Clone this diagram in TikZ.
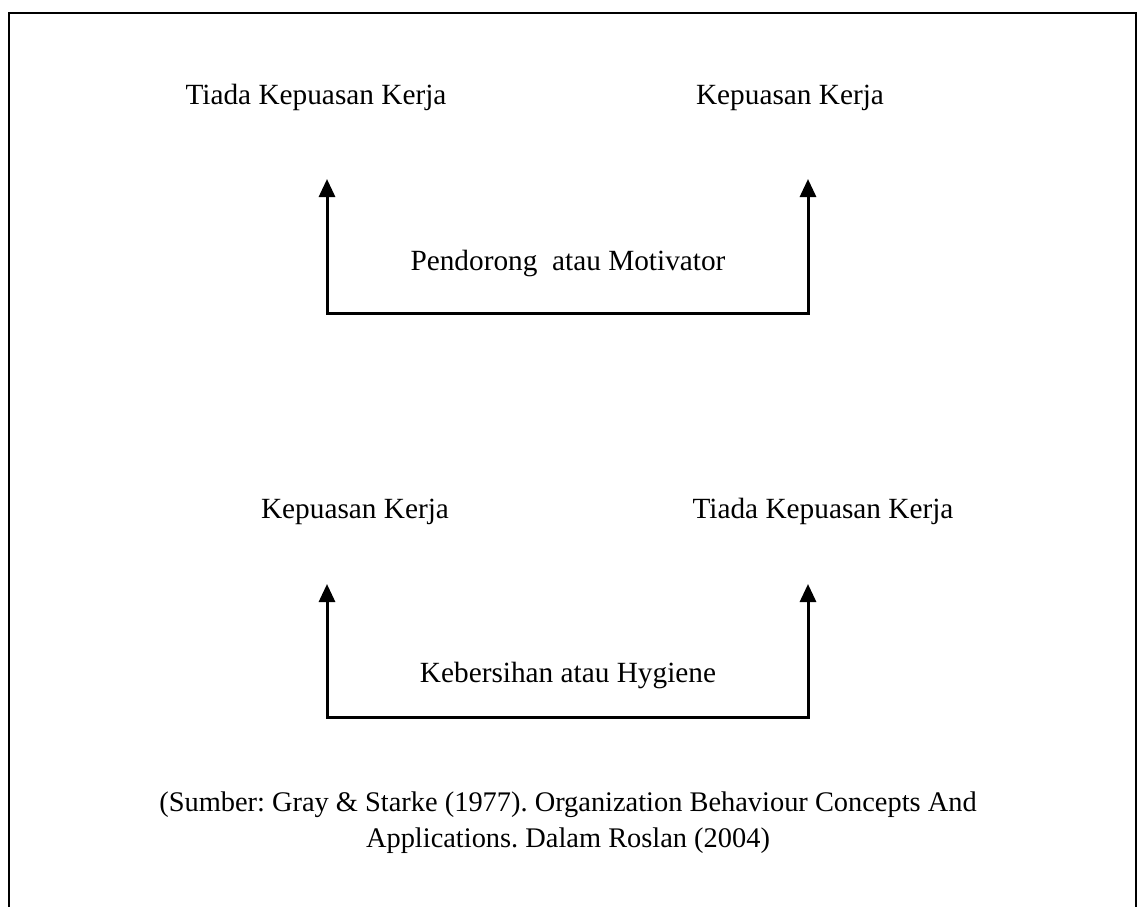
\documentclass[tikz,border=0pt]{standalone}
\usepackage{fontspec}
\setmainfont{Liberation Serif}
\frenchspacing
\usetikzlibrary{arrows.meta}
\begin{document}
\begin{tikzpicture}[x=1pt,y=-1pt,
  label/.style={font=\fontsize{29.3}{34}\selectfont, inner sep=0pt, anchor=base},
  source/.style={label, font=\fontsize{28.4}{34}\selectfont},
  bracket/.style={line width=3pt, {Triangle[width=16pt,length=18pt]}-{Triangle[width=16pt,length=18pt]}},
  frame/.style={line width=2pt}]
  \useasboundingbox (0,0) rectangle (1138,906);
  % outer frame, open at the bottom
  \draw[frame] (9,920) -- (9,13) -- (1136,13) -- (1136,920);

  % upper pair: motivators
  \node[label] (tnk1) at (316,104) {Tiada Kepuasan Kerja};
  \node[label] (kk1) at (790,104) {Kepuasan Kerja};
  \coordinate (a1) at (327,179);
  \coordinate (a2) at (327,313);
  \coordinate (a3) at (808,313);
  \coordinate (a4) at (808,179);
  \draw[bracket] (a1) -- (a2) -- (a3) -- (a4);
  \node[label] (mot) at (568,270) {Pendorong\ \ atau Motivator};

  % lower pair: hygiene factors
  \node[label] (kk2) at (355,518) {Kepuasan Kerja};
  \node[label] (tnk2) at (823,518) {Tiada Kepuasan Kerja};
  \coordinate (b1) at (327,584);
  \coordinate (b2) at (327,717);
  \coordinate (b3) at (808,717);
  \coordinate (b4) at (808,584);
  \draw[bracket] (b1) -- (b2) -- (b3) -- (b4);
  \node[label] (hyg) at (568,682) {Kebersihan atau Hygiene};

  % source
  \node[source] (src1) at (568,811) {(Sumber: Gray \& Starke (1977). Organization Behaviour Concepts And};
  \node[source] (src2) at (568,847) {Applications. Dalam Roslan (2004)};
\end{tikzpicture}
\end{document}
